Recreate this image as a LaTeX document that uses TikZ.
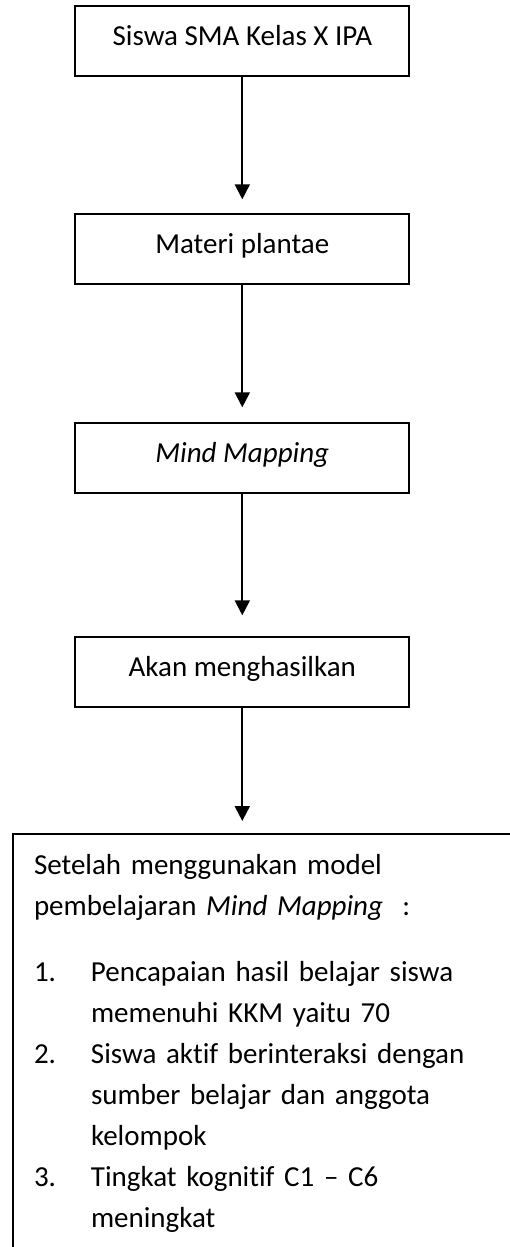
\documentclass[tikz,border=0pt]{standalone}
\usepackage{fontspec}
\setmainfont{Carlito}[Ligatures=NoCommon]
\usepackage{tikz}
\usetikzlibrary{arrows.meta, calc, positioning}
\tikzstyle{block} = [rectangle, line width=2pt, minimum width=334pt, minimum height=70pt, inner sep=0pt, text centered, text height=19pt, text depth=10pt, draw=black]
\tikzstyle{arrow} = [line width=2pt,-{Triangle[width=15pt,length=15pt]}]
\newcommand{\butir}[1]{\makebox[57pt][l]{#1}}

\begin{document}
\begin{tikzpicture}[font=\fontsize{29}{41}\selectfont]
		\useasboundingbox (0,0) rectangle (510pt,-1247pt);
		\node (Siswa) [block] at (242.3pt,-41.3pt) {Siswa SMA Kelas X IPA};
		\node (Materi) [block, below = 136pt of Siswa] {Materi plantae};
		\node (MindMap) [block, below = 137pt of Materi] {\textit{Mind Mapping}};
		\node (Hasil) [block, below = 142pt of MindMap] {Akan menghasilkan};
		\node (Kesimpulan) [draw=black, line width=2pt, anchor=north west, text width=500pt, inner xsep=21pt, inner ysep=20pt, align=left] at (12pt,-833pt) {
			Setelah menggunakan model\\
			pembelajaran \textit{Mind Mapping}~~:\\[25pt]
			\butir{1.}Pencapaian hasil belajar siswa\\
			\hspace*{57pt}memenuhi KKM yaitu 70\\
			\butir{2.}Siswa aktif berinteraksi dengan\\
			\hspace*{57pt}sumber belajar dan anggota\\
			\hspace*{57pt}kelompok\\
			\butir{3.}Tingkat kognitif C1 -- C6\\
			\hspace*{57pt}meningkat
		};
		\draw [arrow, shorten >=14pt] (Siswa) -- (Materi);
		\draw [arrow, shorten >=15pt] (Materi) -- (MindMap);
		\draw [arrow, shorten >=21pt] (MindMap) -- (Hasil);
		\draw [arrow, shorten >=12pt] (Hasil.south) -- (Hasil.south |- Kesimpulan.north);
\end{tikzpicture}
\end{document}
